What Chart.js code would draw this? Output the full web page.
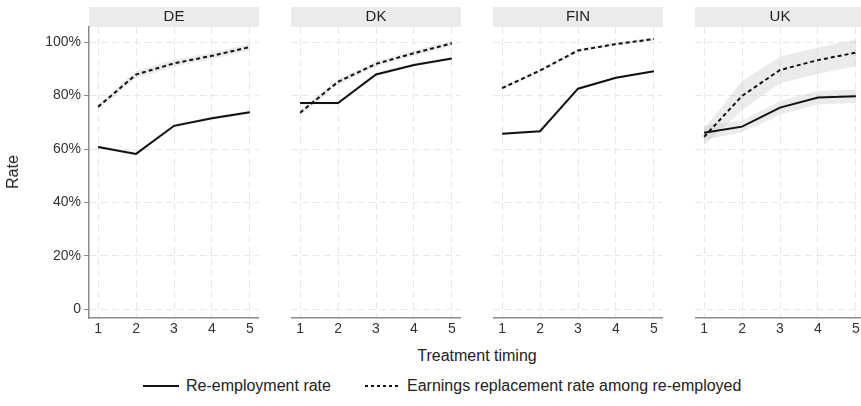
<!DOCTYPE html>
<html>
<head>
<meta charset="utf-8">
<script src="https://cdn.jsdelivr.net/npm/chart.js@4.4.1/dist/chart.umd.min.js"></script>
<style>
  html, body { margin: 0; padding: 0; background: #fff; width: 861px; height: 406px; overflow: hidden; }
  body { position: relative; font-family: "Liberation Sans", Arial, sans-serif; color: #222; }
  canvas.panel { position: absolute; top: 0; }
  #ytitle { position: absolute; left: 13px; top: 172px; transform: translate(-50%, -50%) rotate(-90deg); font-size: 16px; font-weight: 400; white-space: nowrap; }
  #xtitle { position: absolute; left: 477px; top: 356px; transform: translate(-50%, -50%); font-size: 16px; white-space: nowrap; }
  .lg-line { position: absolute; height: 2px; }
  .lg-text { position: absolute; font-size: 16px; white-space: nowrap; transform: translateY(-50%); }
</style>
</head>
<body>
<canvas id="pDE" class="panel" width="259" height="340" style="left:0px"></canvas>
<canvas id="pDK" class="panel" width="170" height="340" style="left:291px"></canvas>
<canvas id="pFIN" class="panel" width="170" height="340" style="left:493px"></canvas>
<canvas id="pUK" class="panel" width="170" height="340" style="left:695px"></canvas>

<div id="ytitle">Rate</div>
<div id="xtitle">Treatment timing</div>

<div class="lg-line" style="left:143px; top:385px; width:36px; background:#111;"></div>
<div class="lg-text" style="left:186px; top:386px;">Re-employment rate</div>
<div class="lg-line" style="left:365px; top:385px; width:34px; background:repeating-linear-gradient(90deg,#111 0 3px,transparent 3px 6px);"></div>
<div class="lg-text" style="left:407px; top:386px;">Earnings replacement rate among re-employed</div>

<script>
// Treatment timing (x) and the country panels
const timing = [1, 2, 3, 4, 5];
const countries = ['DE', 'DK', 'FIN', 'UK'];
const yTicks = [0, 20, 40, 60, 80, 100];

// Re-employment rate (%) with confidence bounds
const reempDE = [60.8, 58.2, 68.7, 71.5, 73.8];
const reempLoDE = [60.2, 57.6, 68.1, 70.9, 73.2];
const reempHiDE = [61.4, 58.8, 69.3, 72.1, 74.4];
const reempDK = [77.2, 77.2, 87.9, 91.5, 93.9];
const reempLoDK = [76.7, 76.7, 87.4, 91.0, 93.4];
const reempHiDK = [77.7, 77.7, 88.4, 92.0, 94.4];
const reempFIN = [65.7, 66.7, 82.6, 86.7, 89.1];
const reempLoFIN = [65.3, 66.3, 82.2, 86.3, 88.7];
const reempHiFIN = [66.1, 67.1, 83.0, 87.1, 89.5];
const reempUK = [66.1, 68.4, 75.5, 79.3, 79.8];
const reempLoUK = [63.4, 66.3, 72.8, 76.8, 77.2];
const reempHiUK = [68.8, 70.6, 78.0, 81.8, 82.3];

// Earnings replacement rate among re-employed (%) with confidence bounds
const earnDE = [75.8, 87.9, 92.1, 94.9, 98.2];
const earnLoDE = [74.8, 86.6, 90.8, 93.7, 97.0];
const earnHiDE = [76.8, 89.2, 93.4, 96.1, 99.4];
const earnDK = [73.6, 85.2, 91.9, 95.9, 99.6];
const earnLoDK = [72.6, 84.2, 90.9, 94.9, 98.6];
const earnHiDK = [74.6, 86.2, 92.9, 96.9, 100.6];
const earnFIN = [82.8, 89.4, 96.9, 99.3, 101.2];
const earnLoFIN = [82.2, 88.8, 96.3, 98.7, 100.6];
const earnHiFIN = [83.4, 90.0, 97.5, 99.9, 101.8];
const earnUK = [64.6, 79.9, 89.6, 93.3, 96.1];
const earnLoUK = [61.5, 74.5, 84.6, 88.2, 91.0];
const earnHiUK = [67.5, 85.5, 94.6, 98.0, 101.0];

const panelSeries = {
  DE:  { reemp: reempDE,  lo: reempLoDE,  hi: reempHiDE,  earn: earnDE,  eLo: earnLoDE,  eHi: earnHiDE },
  DK:  { reemp: reempDK,  lo: reempLoDK,  hi: reempHiDK,  earn: earnDK,  eLo: earnLoDK,  eHi: earnHiDK },
  FIN: { reemp: reempFIN, lo: reempLoFIN, hi: reempHiFIN, earn: earnFIN, eLo: earnLoFIN, eHi: earnHiFIN },
  UK:  { reemp: reempUK,  lo: reempLoUK,  hi: reempHiUK,  earn: earnUK,  eLo: earnLoUK,  eHi: earnHiUK }
};

const FONT = '"Liberation Sans", Arial, sans-serif';
const BAND = 'rgba(190,190,190,0.3)';
const LINE = '#111111';
const GRID = '#e8e8e8';
const AXIS = '#8a8a8a';

const pts = arr => arr.map((v, i) => ({ x: timing[i], y: v }));

// grey facet strip behind the panel title
const stripPlugin = {
  id: 'strip',
  beforeDraw(chart) {
    const { ctx, chartArea } = chart;
    ctx.save();
    ctx.fillStyle = '#ebebeb';
    ctx.fillRect(chartArea.left, 7, chartArea.right - chartArea.left, 20);
    ctx.restore();
  }
};

function band(lo, hi, order) {
  return [
    { data: pts(lo), borderWidth: 0, pointRadius: 0, fill: false, order: order },
    { data: pts(hi), borderWidth: 0, pointRadius: 0, fill: '-1', backgroundColor: BAND, order: order }
  ];
}

function makePanel(country, showY) {
  const s = panelSeries[country];
  const datasets = [
    ...band(s.lo, s.hi, 2),
    ...band(s.eLo, s.eHi, 2),
    { label: 'Re-employment rate', data: pts(s.reemp), borderColor: LINE, borderWidth: 2, pointRadius: 0, fill: false, tension: 0, order: 0 },
    { label: 'Earnings replacement rate among re-employed', data: pts(s.earn), borderColor: LINE, borderWidth: 2, borderDash: [4, 3], pointRadius: 0, fill: false, tension: 0, order: 0 }
  ];

  new Chart(document.getElementById('p' + country), {
    type: 'line',
    data: { datasets },
    plugins: [stripPlugin],
    options: {
      responsive: false,
      animation: false,
      layout: { padding: 0 },
      plugins: {
        legend: { display: false },
        tooltip: { enabled: false },
        title: {
          display: true,
          text: country,
          fullSize: false,
          color: '#222',
          font: { family: FONT, size: 15, lineHeight: 1.0667, weight: 'normal' },
          padding: { top: 9, bottom: 2 }
        }
      },
      scales: {
        x: {
          type: 'linear',
          min: 0.76,
          max: 5.24,
          afterBuildTicks: sc => { sc.ticks = timing.map(v => ({ value: v })); },
          afterFit: sc => { sc.height = 22; },
          ticks: { color: '#333', font: { family: FONT, size: 14 }, padding: 3, maxRotation: 0 },
          grid: { color: GRID, lineWidth: 1, drawTicks: false },
          border: { display: true, color: AXIS, width: 1.5, dash: [7, 4] }
        },
        y: {
          type: 'linear',
          min: -3.26,
          max: 105.7,
          afterBuildTicks: sc => { sc.ticks = yTicks.map(v => ({ value: v })); },
          afterFit: sc => { sc.width = showY ? 89 : 0; },
          ticks: {
            display: showY,
            color: '#333',
            font: { family: FONT, size: 14 },
            padding: 3,
            callback: v => (v === 0 ? '0' : v + '%')
          },
          grid: { color: GRID, lineWidth: 1, drawTicks: showY, tickLength: 5, tickColor: AXIS, tickWidth: 1 },
          border: { display: showY, color: AXIS, width: 1.5, dash: [7, 4] }
        }
      }
    }
  });
}

countries.forEach((c, i) => makePanel(c, i === 0));
</script>
</body>
</html>
